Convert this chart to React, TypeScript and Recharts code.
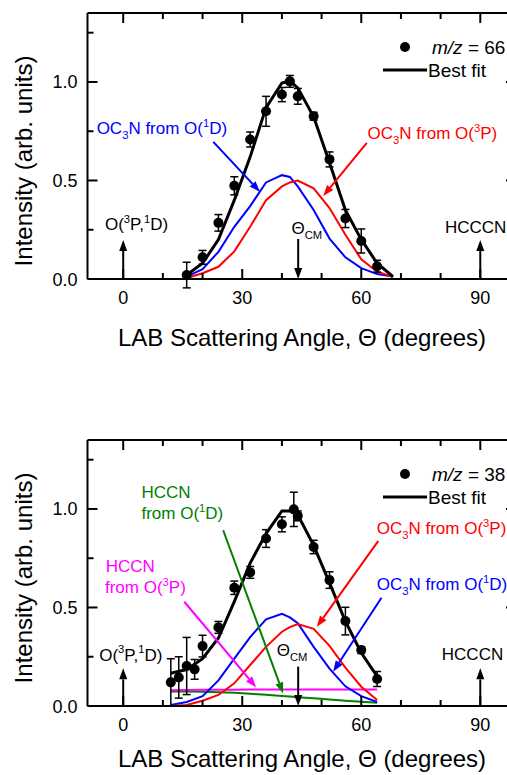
import {
  ComposedChart,
  Line,
  Scatter,
  ErrorBar,
  XAxis,
  YAxis,
  ReferenceLine,
  ReferenceDot,
  Legend,
} from 'recharts'

const FONT = '"Liberation Sans", Arial, sans-serif'
const BLUE = '#0000ff'
const RED = '#ff0000'
const GREEN = '#008000'
const MAGENTA = '#ff00ff'

// axis ticks
const xTicks = [0, 10, 20, 30, 40, 50, 60, 70, 80, 90]
const xMajor = [0, 30, 60, 90]
const yTicks = [0, 0.25, 0.5, 0.75, 1, 1.25]
const yMajor = [0, 0.5, 1]

// m/z = 66 : data points
const dataAngles66 = [16, 20, 24, 28, 32, 36, 40, 42, 44, 48, 52, 56, 60, 64]
const intensity66 = [0.02, 0.11, 0.285, 0.473, 0.708, 0.851, 0.936, 1.003, 0.927, 0.826, 0.607, 0.307, 0.193, 0.065]
const error66 = [0.065, 0.035, 0.042, 0.046, 0.038, 0.076, 0.036, 0.03, 0.04, 0.02, 0.038, 0.046, 0.061, 0.03]

// m/z = 66 : fitted curves
const fitAngles66 = [16, 20, 24, 28, 32, 36, 40, 42, 44, 48, 52, 56, 60, 64, 68]
const bestFit66 = [0.02, 0.08, 0.2, 0.4, 0.62, 0.87, 0.995, 1.005, 0.97, 0.823, 0.59, 0.35, 0.2, 0.08, 0.012]
const oc3n1D66 = [0.012, 0.05, 0.138, 0.265, 0.37, 0.49, 0.527, 0.518, 0.47, 0.35, 0.205, 0.11, 0.055, 0.025, 0.012]
const oc3n3P66 = [0.005, 0.029, 0.062, 0.14, 0.265, 0.4, 0.47, 0.49, 0.5, 0.46, 0.36, 0.225, 0.1, 0.037, 0.01]

// m/z = 38 : data points
const dataAngles38 = [12, 14, 16, 18, 20, 24, 28, 32, 36, 40, 43, 44, 48, 52, 56, 60, 64]
const intensity38 = [0.12, 0.145, 0.203, 0.186, 0.304, 0.399, 0.6, 0.678, 0.85, 0.922, 0.998, 0.965, 0.807, 0.639, 0.431, 0.284, 0.137]
const error38 = [0.12, 0.105, 0.145, 0.05, 0.055, 0.03, 0.034, 0.03, 0.045, 0.038, 0.087, 0.025, 0.034, 0.042, 0.07, 0.017, 0.038]

// m/z = 38 : fitted curves
const fitAngles38 = [12, 16, 20, 24, 28, 32, 36, 40, 42, 44, 48, 52, 56, 60, 64]
const bestFit38 = [0.166, 0.185, 0.24, 0.345, 0.53, 0.725, 0.875, 0.99, 0.99, 0.97, 0.815, 0.625, 0.43, 0.27, 0.15]
const oc3n1D38 = [0.005, 0.02, 0.05, 0.13, 0.24, 0.35, 0.44, 0.468, 0.45, 0.42, 0.3, 0.19, 0.1, 0.05, 0.02]
const oc3n3P38 = [0, 0.005, 0.027, 0.056, 0.115, 0.208, 0.3, 0.377, 0.4, 0.416, 0.392, 0.305, 0.195, 0.098, 0.03]
const hccn3P38 = [0.08, 0.081, 0.082, 0.083, 0.083, 0.084, 0.084, 0.084, 0.084, 0.084, 0.084, 0.084, 0.084, 0.084, 0.084]
const hccn1D38 = [0.073, 0.073, 0.072, 0.07, 0.067, 0.062, 0.057, 0.051, 0.048, 0.045, 0.039, 0.033, 0.027, 0.022, 0.017]

type Curve = { key: string; values: number[]; color: string; width: number }
type Note = { x: number; y: number; text: string; color?: string }
type Arrow = { from: [number, number]; to: [number, number]; color: string }

const curves66: Curve[] = [
  { key: 'blue', values: oc3n1D66, color: BLUE, width: 2 },
  { key: 'red', values: oc3n3P66, color: RED, width: 2 },
  { key: 'fit', values: bestFit66, color: '#000', width: 3 },
]
const curves38: Curve[] = [
  { key: 'green', values: hccn1D38, color: GREEN, width: 2 },
  { key: 'magenta', values: hccn3P38, color: MAGENTA, width: 2 },
  { key: 'blue', values: oc3n1D38, color: BLUE, width: 2 },
  { key: 'red', values: oc3n3P38, color: RED, width: 2 },
  { key: 'fit', values: bestFit38, color: '#000', width: 3 },
]

const notes66: Note[] = [
  { x: -6.7, y: 0.767, text: 'OC_3N from O(^1D)', color: BLUE },
  { x: 61.6, y: 0.742, text: 'OC_3N from O(^3P)', color: RED },
  { x: -4.6, y: 0.279, text: 'O(^3P,^1D)' },
  { x: 42.4, y: 0.26, text: 'Θ_{CM}' },
  { x: 81.1, y: 0.265, text: 'HCCCN' },
]
const arrows66: Arrow[] = [
  { from: [22.7, 0.696], to: [34.5, 0.442], color: BLUE },
  { from: [61.4, 0.691], to: [50.4, 0.421], color: RED },
  { from: [0, 0], to: [0, 0.198], color: '#000' },
  { from: [44.1, 0.203], to: [44.1, 0], color: '#000' },
  { from: [90, 0], to: [90, 0.198], color: '#000' },
]

const notes38: Note[] = [
  { x: 4.6, y: 1.086, text: 'HCCN', color: GREEN },
  { x: 4.6, y: 0.98, text: 'from O(^1D)', color: GREEN },
  { x: -4.4, y: 0.711, text: 'HCCN', color: MAGENTA },
  { x: -4.6, y: 0.605, text: 'from O(^3P)', color: MAGENTA },
  { x: 63.9, y: 0.906, text: 'OC_3N from O(^3P)', color: RED },
  { x: 63.9, y: 0.622, text: 'OC_3N from O(^1D)', color: BLUE },
  { x: -6.05, y: 0.262, text: 'O(^3P,^1D)' },
  { x: 38.7, y: 0.284, text: 'Θ_{CM}' },
  { x: 80.3, y: 0.267, text: 'HCCCN' },
]
const arrows38: Arrow[] = [
  { from: [25.2, 0.892], to: [40.3, 0.064], color: GREEN },
  { from: [15.4, 0.529], to: [33.5, 0.095], color: MAGENTA },
  { from: [64.3, 0.838], to: [48.8, 0.402], color: RED },
  { from: [65.1, 0.549], to: [52.9, 0.174], color: BLUE },
  { from: [0, 0], to: [0, 0.191], color: '#000' },
  { from: [44.1, 0.2], to: [44.1, 0], color: '#000' },
  { from: [90, 0], to: [90, 0.191], color: '#000' },
]

// text with _x subscripts and ^x superscripts
function RichText({ x, y, text, color = '#000', size = 17 }: any) {
  const parts = text.split(/([_^](?:\{[^}]*\}|.))/).filter(Boolean)
  let shift = 0
  const spans = parts.map((p: string, i: number) => {
    if (p[0] === '_' || p[0] === '^') {
      const d = p[0] === '_' ? size * 0.3 : -size * 0.42
      const el = (
        <tspan key={i} dy={d - shift} fontSize={size * 0.66}>
          {p.slice(1).replace(/[{}]/g, '')}
        </tspan>
      )
      shift = d
      return el
    }
    const el = (
      <tspan key={i} dy={-shift}>
        {p}
      </tspan>
    )
    shift = 0
    return el
  })
  return (
    <text x={x} y={y} fill={color} fontSize={size} fontFamily={FONT}>
      {spans}
    </text>
  )
}

const arrowShape = (color: string) => (props: any) => {
  const { x1, y1, x2, y2 } = props
  const len = Math.hypot(x2 - x1, y2 - y1) || 1
  const ux = (x2 - x1) / len
  const uy = (y2 - y1) / len
  const head = 11
  const half = 4
  const bx = x2 - ux * head
  const by = y2 - uy * head
  return (
    <g>
      <line x1={x1} y1={y1} x2={bx} y2={by} stroke={color} strokeWidth={2} />
      <polygon
        points={`${x2},${y2} ${bx - uy * half},${by + ux * half} ${bx + uy * half},${by - ux * half}`}
        fill={color}
      />
    </g>
  )
}

const BottomTick = ({ x, y, payload }: any) => {
  const major = xMajor.includes(payload.value)
  return (
    <g>
      <line x1={x} x2={x} y1={y} y2={y - (major ? 10 : 6)} stroke="#000" strokeWidth={2} />
      {major && (
        <text x={x} y={y + 25} textAnchor="middle" fontSize={18} fill="#000" fontFamily={FONT}>
          {payload.value}
        </text>
      )}
    </g>
  )
}

const TopTick = ({ x, y, payload }: any) => {
  const major = xMajor.includes(payload.value)
  return <line x1={x} x2={x} y1={y} y2={y + (major ? 10 : 6)} stroke="#000" strokeWidth={2} />
}

const LeftTick = ({ x, y, payload }: any) => {
  const major = yMajor.includes(payload.value)
  return (
    <g>
      <line x1={x} x2={x + (major ? 10 : 6)} y1={y} y2={y} stroke="#000" strokeWidth={2} />
      {major && (
        <text x={x - 10} y={y + 6.5} textAnchor="end" fontSize={18} fill="#000" fontFamily={FONT}>
          {payload.value.toFixed(1)}
        </text>
      )}
    </g>
  )
}

const RightTick = ({ x, y, payload }: any) => {
  const major = yMajor.includes(payload.value)
  return <line x1={x} x2={x - (major ? 10 : 6)} y1={y} y2={y} stroke="#000" strokeWidth={2} />
}

const LegendBox = ({ mz }: { mz: number }) => (
  <svg width={130} height={50} style={{ overflow: 'visible', display: 'block' }}>
    <circle cx={24} cy={12} r={5} fill="#000" />
    <text x={51} y={19} fontSize={19} fill="#000" fontFamily={FONT}>
      <tspan fontStyle="italic">m/z</tspan> = {mz}
    </text>
    <line x1={2} x2={46} y1={35} y2={35} stroke="#000" strokeWidth={3} />
    <text x={47} y={42} fontSize={19} fill="#000" fontFamily={FONT}>
      Best fit
    </text>
  </svg>
)

const axisLine = { stroke: '#000', strokeWidth: 2 }

function Panel({
  fitAngles,
  curves,
  dataAngles,
  intensity,
  error,
  mz,
  notes,
  arrows,
  yTitleY,
  xTitleY,
}: {
  fitAngles: number[]
  curves: Curve[]
  dataAngles: number[]
  intensity: number[]
  error: number[]
  mz: number
  notes: Note[]
  arrows: Arrow[]
  yTitleY: number
  xTitleY: number
}) {
  const points = dataAngles.map((x, i) => ({ x, y: intensity[i], err: error[i] }))
  return (
    <ComposedChart
      width={540}
      height={380}
      margin={{ top: 12, right: 23, bottom: 100, left: 86.5 }}
      style={{ fontFamily: FONT }}
    >
      <XAxis
        xAxisId="b"
        type="number"
        dataKey="x"
        domain={[-9, 99]}
        ticks={xTicks}
        interval={0}
        tickSize={0}
        tickMargin={0}
        tickLine={false}
        height={1}
        axisLine={axisLine}
        tick={<BottomTick />}
        allowDataOverflow
      />
      <XAxis
        xAxisId="t"
        orientation="top"
        type="number"
        dataKey="x"
        domain={[-9, 99]}
        ticks={xTicks}
        interval={0}
        tickSize={0}
        tickMargin={0}
        tickLine={false}
        height={1}
        axisLine={axisLine}
        tick={<TopTick />}
        allowDataOverflow
      />
      <YAxis
        yAxisId="l"
        type="number"
        domain={[0, 1.35]}
        ticks={yTicks}
        interval={0}
        tickSize={0}
        tickMargin={0}
        tickLine={false}
        width={1}
        axisLine={axisLine}
        tick={<LeftTick />}
        allowDataOverflow
      />
      <YAxis
        yAxisId="r"
        orientation="right"
        type="number"
        domain={[0, 1.35]}
        ticks={yTicks}
        interval={0}
        tickSize={0}
        tickMargin={0}
        tickLine={false}
        width={1}
        axisLine={axisLine}
        tick={<RightTick />}
        allowDataOverflow
      />
      {curves.map((c) => (
        <Line
          key={c.key}
          xAxisId="b"
          yAxisId="l"
          data={fitAngles.map((x, i) => ({ x, v: c.values[i] }))}
          dataKey="v"
          type="linear"
          stroke={c.color}
          strokeWidth={c.width}
          dot={false}
          activeDot={false}
          isAnimationActive={false}
        />
      ))}
      <Scatter
        xAxisId="b"
        yAxisId="l"
        data={points}
        dataKey="y"
        isAnimationActive={false}
        shape={(p: any) => <circle cx={p.cx} cy={p.cy} r={5} fill="#000" />}
      >
        <ErrorBar dataKey="err" direction="y" width={4} stroke="#000" strokeWidth={1.5} />
      </Scatter>
      {arrows.map((a, i) => (
        <ReferenceLine
          key={`a${i}`}
          xAxisId="b"
          yAxisId="l"
          segment={[
            { x: a.from[0], y: a.from[1] },
            { x: a.to[0], y: a.to[1] },
          ]}
          shape={arrowShape(a.color)}
        />
      ))}
      {notes.map((n, i) => (
        <ReferenceDot
          key={`n${i}`}
          xAxisId="b"
          yAxisId="l"
          x={n.x}
          y={n.y}
          r={0}
          shape={(p: any) => <RichText x={p.cx} y={p.cy + 6.2} text={n.text} color={n.color} />}
        />
      ))}
      <Legend
        layout="horizontal"
        verticalAlign="middle"
        align="center"
        wrapperStyle={{ position: 'absolute', left: 381, top: 35, width: 130 }}
        content={() => <LegendBox mz={mz} />}
      />
      <text
        x={32}
        y={yTitleY}
        transform={`rotate(-90, 32, ${yTitleY})`}
        textAnchor="middle"
        fontSize={24}
        fill="#000"
        fontFamily={FONT}
      >
        Intensity (arb. units)
      </text>
      <text x={302} y={xTitleY} textAnchor="middle" fontSize={24} fill="#000" fontFamily={FONT}>
        LAB Scattering Angle, Θ (degrees)
      </text>
    </ComposedChart>
  )
}

export default function App() {
  return (
    <div
      style={{
        position: 'absolute',
        left: 0,
        top: 0,
        width: 507,
        height: 775,
        overflow: 'hidden',
        background: '#fff',
      }}
    >
      <div style={{ position: 'absolute', left: 0, top: 0 }}>
        <Panel
          fitAngles={fitAngles66}
          curves={curves66}
          dataAngles={dataAngles66}
          intensity={intensity66}
          error={error66}
          mz={66}
          notes={notes66}
          arrows={arrows66}
          yTitleY={161}
          xTitleY={346}
        />
      </div>
      <div style={{ position: 'absolute', left: 0, top: 427 }}>
        <Panel
          fitAngles={fitAngles38}
          curves={curves38}
          dataAngles={dataAngles38}
          intensity={intensity38}
          error={error38}
          mz={38}
          notes={notes38}
          arrows={arrows38}
          yTitleY={151}
          xTitleY={340}
        />
      </div>
    </div>
  )
}
